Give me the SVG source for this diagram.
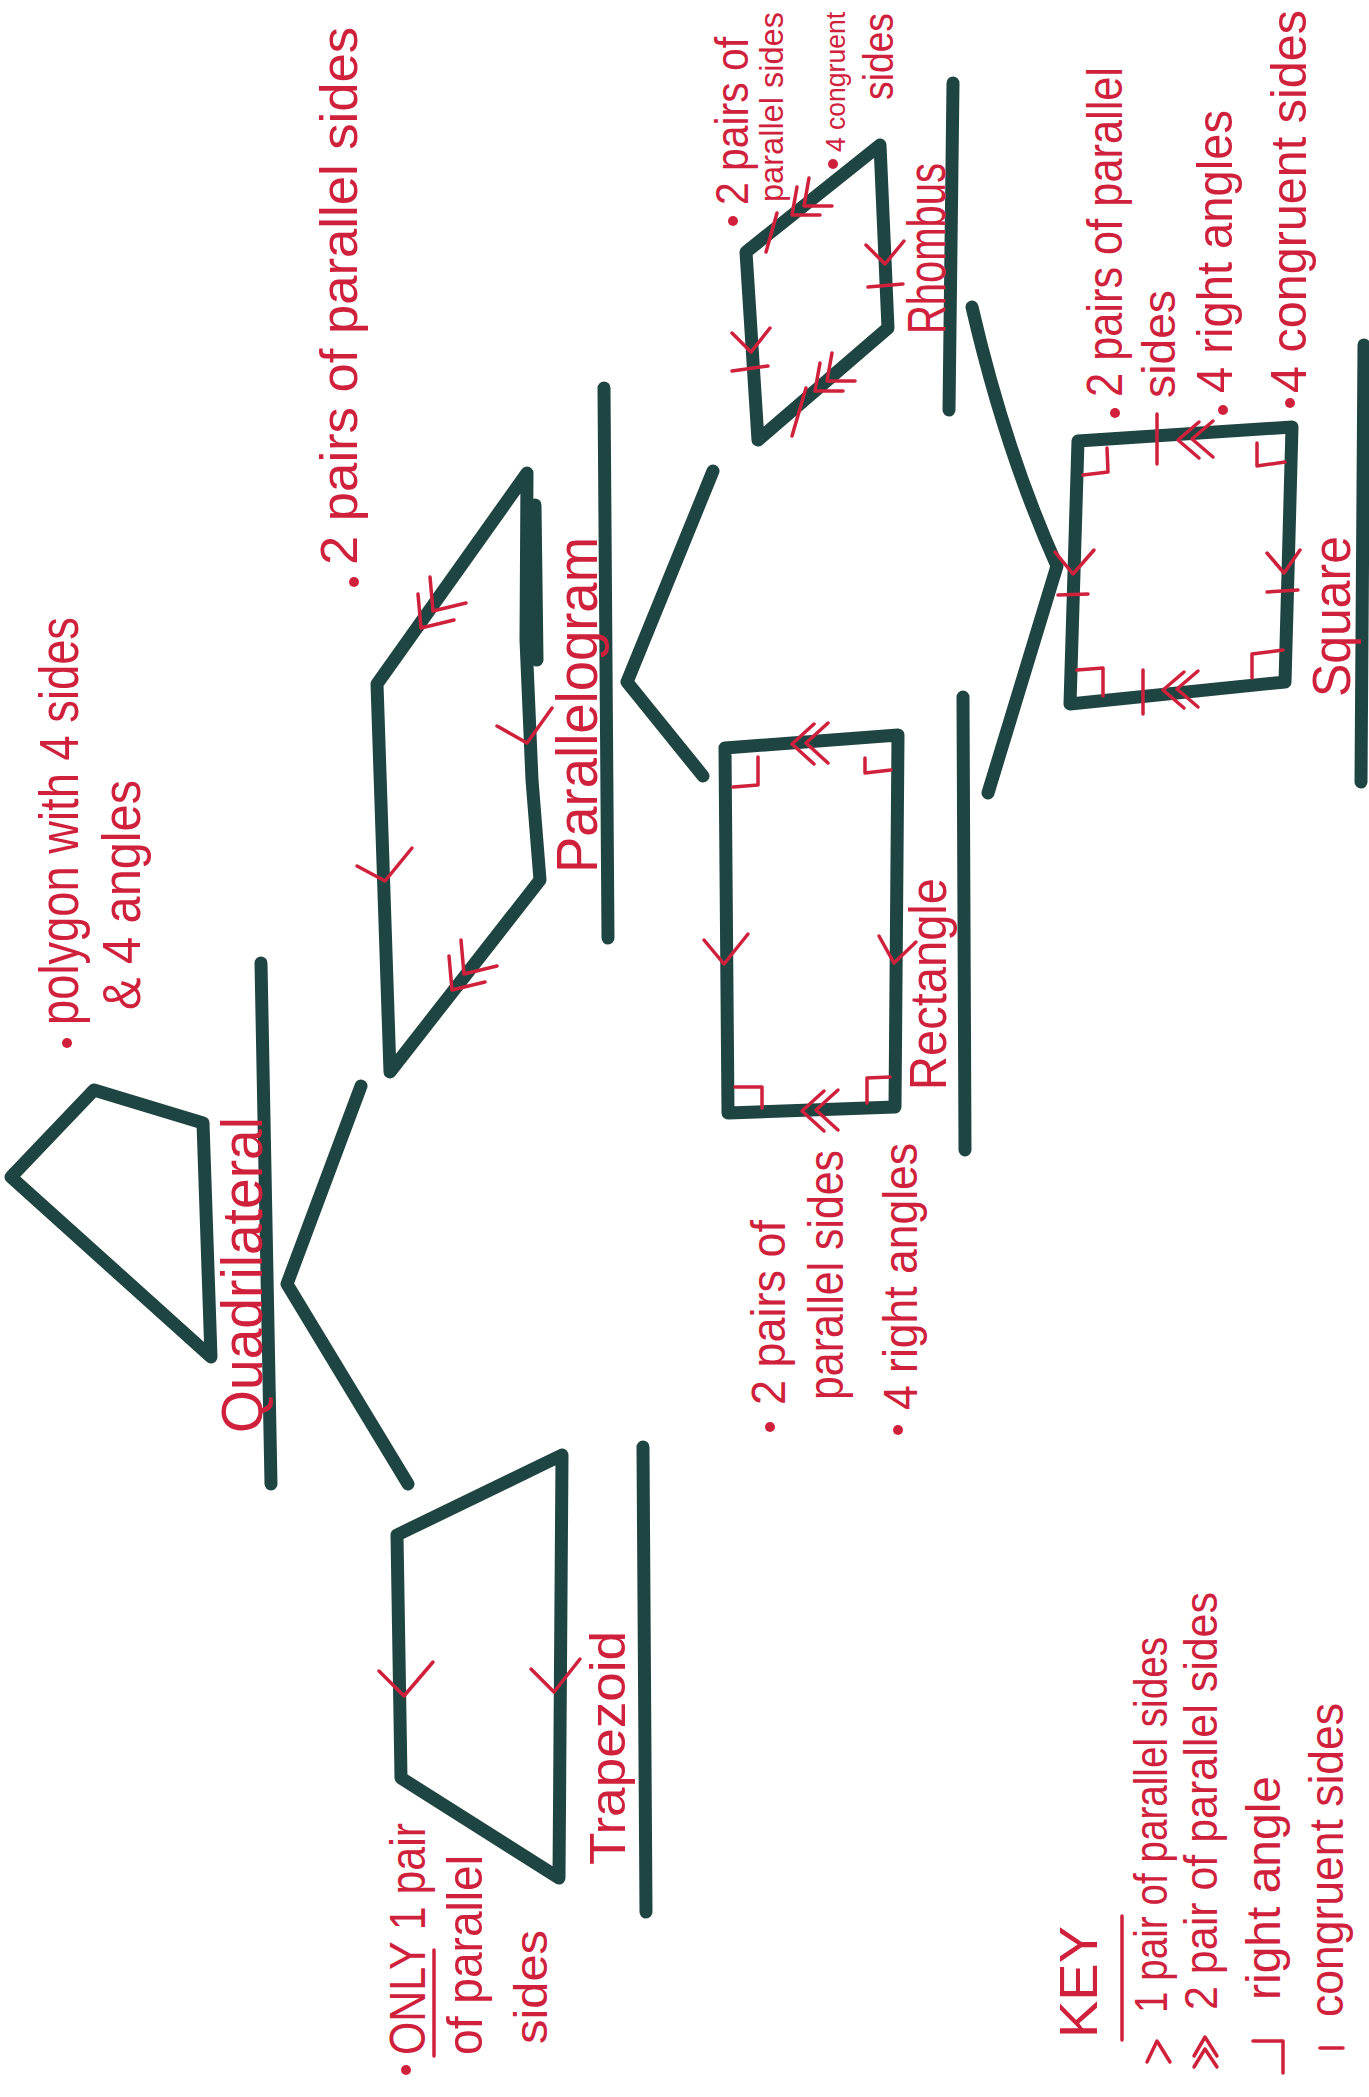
<svg xmlns="http://www.w3.org/2000/svg" width="1369" height="2097" viewBox="0 0 1369 2097">
<style>
.g{fill:none;stroke:#1f4543;stroke-width:13;stroke-linecap:round;stroke-linejoin:round}
.r{fill:none;stroke:#d0213c;stroke-width:3.5;stroke-linecap:round;stroke-linejoin:round}
.t{fill:#d0213c;font-family:'Liberation Sans Narrow','Liberation Sans',sans-serif}
.b{fill:#d0213c}
</style>
<rect width="1369" height="2097" fill="#ffffff"/>

<g id="connectors">
<path class="g" d="M361,1086 L287,1284 L408,1484"/>
<path class="g" d="M713,471 L627,682 L703,776"/>
<path class="g" d="M972,307 Q1005,450 1057,566 L988,793"/>
</g>

<g id="quadrilateral">
<polygon class="g" points="94,1090 203,1123 211,1357 11,1177"/>
<line class="g" x1="261" y1="963" x2="271" y2="1484"/>
<text class="t" font-size="58" transform="translate(262,1433) rotate(-90)" textLength="316" lengthAdjust="spacingAndGlyphs">Quadrilateral</text>
<circle class="b" cx="67" cy="1043" r="5"/>
<text class="t" font-size="56" transform="translate(78,1025) rotate(-90)" textLength="408" lengthAdjust="spacingAndGlyphs">polygon with 4 sides</text>
<text class="t" font-size="54" transform="translate(140,1010) rotate(-90)" textLength="230" lengthAdjust="spacingAndGlyphs">&amp; 4 angles</text>
</g>

<g id="parallelogram">
<path class="g" d="M527,473 L377,684 L390,1072 L540,880 L532,780 L526,640 Z"/>
<path class="g" stroke-width="12" d="M535,505 L537,660"/>
<polyline class="r" points="454,620 421,628 418,594"/>
<polyline class="r" points="466,603 433,611 430,577"/>
<polyline class="r" points="485,982 452,990 449,956"/>
<polyline class="r" points="497,966 464,974 461,940"/>
<polyline class="r" points="357,866 385,881 412,848"/>
<polyline class="r" points="497,726 527,743 552,708"/>
<line class="g" x1="604" y1="388" x2="608" y2="938"/>
<text class="t" font-size="58" transform="translate(597,873) rotate(-90)" textLength="336" lengthAdjust="spacingAndGlyphs">Parallelogram</text>
<circle class="b" cx="354" cy="582" r="5"/>
<text class="t" font-size="52" transform="translate(357,565) rotate(-90)" textLength="538" lengthAdjust="spacingAndGlyphs">2 pairs of parallel sides</text>
</g>

<g id="rhombus">
<polygon class="g" points="746,252 880,145 888,328 758,440"/>
<polyline class="r" points="777,213 766,252"/>
<polyline class="r" points="820,215 792,215 797,187"/>
<polyline class="r" points="832,206 804,206 809,178"/>
<polyline class="r" points="806,388 792,436"/>
<polyline class="r" points="843,391 815,391 820,363"/>
<polyline class="r" points="855,381 827,381 832,353"/>
<polyline class="r" points="732,333 751,352 770,328"/>
<polyline class="r" points="732,371 768,366"/>
<polyline class="r" points="866,245 885,264 904,241"/>
<polyline class="r" points="868,287 903,284"/>
<line class="g" x1="953" y1="83" x2="949" y2="410"/>
<text class="t" font-size="54" transform="translate(945,334) rotate(-90)" textLength="171" lengthAdjust="spacingAndGlyphs">Rhombus</text>
<circle class="b" cx="733" cy="221" r="5"/>
<text class="t" font-size="46" transform="translate(748,205) rotate(-90)" textLength="168" lengthAdjust="spacingAndGlyphs">2 pairs of</text>
<text class="t" font-size="33" transform="translate(783,202) rotate(-90)" textLength="190" lengthAdjust="spacingAndGlyphs">parallel sides</text>
<circle class="b" cx="833" cy="164" r="5"/>
<text class="t" font-size="27" transform="translate(845,152) rotate(-90)" textLength="140" lengthAdjust="spacingAndGlyphs">4 congruent</text>
<text class="t" font-size="42" transform="translate(893,100) rotate(-90)" textLength="87" lengthAdjust="spacingAndGlyphs">sides</text>
</g>

<g id="rectangle">
<polygon class="g" points="725,748 898,735 895,1107 728,1113"/>
<polyline class="r" points="814,724 792,744 814,764"/>
<polyline class="r" points="828,723 806,743 828,763"/>
<polyline class="r" points="824,1091 802,1111 824,1131"/>
<polyline class="r" points="838,1090 816,1110 838,1130"/>
<polyline class="r" points="704,940 724,964 748,934"/>
<polyline class="r" points="879,936 894,963 916,942"/>
<polyline class="r" points="733,787 758,785 758,757"/>
<polyline class="r" points="865,758 865,773 891,770"/>
<polyline class="r" points="735,1087 762,1087 762,1108"/>
<polyline class="r" points="890,1077 867,1078 867,1103"/>
<line class="g" x1="963" y1="697" x2="965" y2="1150"/>
<text class="t" font-size="52" transform="translate(946,1090) rotate(-90)" textLength="212" lengthAdjust="spacingAndGlyphs">Rectangle</text>
<circle class="b" cx="770" cy="1427" r="5"/>
<text class="t" font-size="48" transform="translate(785,1405) rotate(-90)" textLength="185" lengthAdjust="spacingAndGlyphs">2 pairs of</text>
<text class="t" font-size="50" transform="translate(843,1400) rotate(-90)" textLength="250" lengthAdjust="spacingAndGlyphs">parallel sides</text>
<circle class="b" cx="898" cy="1430" r="5"/>
<text class="t" font-size="48" transform="translate(917,1410) rotate(-90)" textLength="267" lengthAdjust="spacingAndGlyphs">4 right angles</text>
</g>

<g id="square">
<polygon class="g" points="1078,441 1292,427 1285,682 1070,704"/>
<polyline class="r" points="1157,414 1157,464"/>
<polyline class="r" points="1199,422 1178,440 1199,458"/>
<polyline class="r" points="1213,421 1192,439 1213,457"/>
<polyline class="r" points="1143,670 1143,714"/>
<polyline class="r" points="1184,672 1163,690 1184,708"/>
<polyline class="r" points="1198,671 1177,689 1198,707"/>
<polyline class="r" points="1055,552 1073,574 1094,550"/>
<polyline class="r" points="1058,595 1088,594"/>
<polyline class="r" points="1267,553 1284,573 1300,550"/>
<polyline class="r" points="1267,592 1298,590"/>
<polyline class="r" points="1083,475 1108,472 1107,448"/>
<polyline class="r" points="1257,443 1257,466 1285,462"/>
<polyline class="r" points="1283,650 1252,654 1252,678"/>
<polyline class="r" points="1077,670 1103,668 1103,696"/>
<line class="g" x1="1364" y1="345" x2="1361" y2="782"/>
<text class="t" font-size="54" transform="translate(1350,697) rotate(-90)" textLength="161" lengthAdjust="spacingAndGlyphs">Square</text>
<circle class="b" cx="1115" cy="413" r="5"/>
<text class="t" font-size="50" transform="translate(1122,397) rotate(-90)" textLength="330" lengthAdjust="spacingAndGlyphs">2 pairs of parallel</text>
<text class="t" font-size="46" transform="translate(1175,398) rotate(-90)" textLength="108" lengthAdjust="spacingAndGlyphs">sides</text>
<circle class="b" cx="1223" cy="410" r="5"/>
<text class="t" font-size="50" transform="translate(1232,393) rotate(-90)" textLength="283" lengthAdjust="spacingAndGlyphs">4 right angles</text>
<circle class="b" cx="1290" cy="403" r="5"/>
<text class="t" font-size="50" transform="translate(1306,393) rotate(-90)" textLength="383" lengthAdjust="spacingAndGlyphs">4 congruent sides</text>
</g>

<g id="trapezoid">
<polygon class="g" points="397,1535 562,1455 559,1878 401,1778"/>
<polyline class="r" points="379,1671 404,1696 433,1662"/>
<polyline class="r" points="531,1669 554,1692 580,1659"/>
<line class="g" x1="643" y1="1447" x2="646" y2="1912"/>
<text class="t" font-size="50" transform="translate(625,1865) rotate(-90)" textLength="234" lengthAdjust="spacingAndGlyphs">Trapezoid</text>
<circle class="b" cx="406" cy="2070" r="5"/>
<text class="t" font-size="50" transform="translate(425,2055) rotate(-90)" textLength="232" lengthAdjust="spacingAndGlyphs">ONLY 1 pair</text>
<line class="r" x1="434" y1="2056" x2="434" y2="1950"/>
<text class="t" font-size="50" transform="translate(482,2055) rotate(-90)" textLength="200" lengthAdjust="spacingAndGlyphs">of parallel</text>
<text class="t" font-size="46" transform="translate(547,2044) rotate(-90)" textLength="114" lengthAdjust="spacingAndGlyphs">sides</text>
</g>

<g id="key">
<text class="t" font-size="54" transform="translate(1097,2038) rotate(-90)" textLength="112" lengthAdjust="spacingAndGlyphs">KEY</text>
<line class="r" x1="1122" y1="2040" x2="1122" y2="1916"/>
<polyline class="r" points="1147,2062 1157,2041 1170,2062"/>
<text class="t" font-size="46" transform="translate(1167,2013) rotate(-90)" textLength="376" lengthAdjust="spacingAndGlyphs">1 pair of parallel sides</text>
<polyline class="r" points="1194,2056 1205,2037 1217,2056"/>
<polyline class="r" points="1194,2067 1205,2049 1217,2067"/>
<text class="t" font-size="46" transform="translate(1217,2010) rotate(-90)" textLength="418" lengthAdjust="spacingAndGlyphs">2 pair of parallel sides</text>
<polyline class="r" points="1253,2041 1283,2041 1283,2073"/>
<text class="t" font-size="48" transform="translate(1280,2000) rotate(-90)" textLength="224" lengthAdjust="spacingAndGlyphs">right angle</text>
<polyline class="r" points="1320,2048 1343,2048"/>
<text class="t" font-size="48" transform="translate(1343,2017) rotate(-90)" textLength="314" lengthAdjust="spacingAndGlyphs">congruent sides</text>
</g>
</svg>
